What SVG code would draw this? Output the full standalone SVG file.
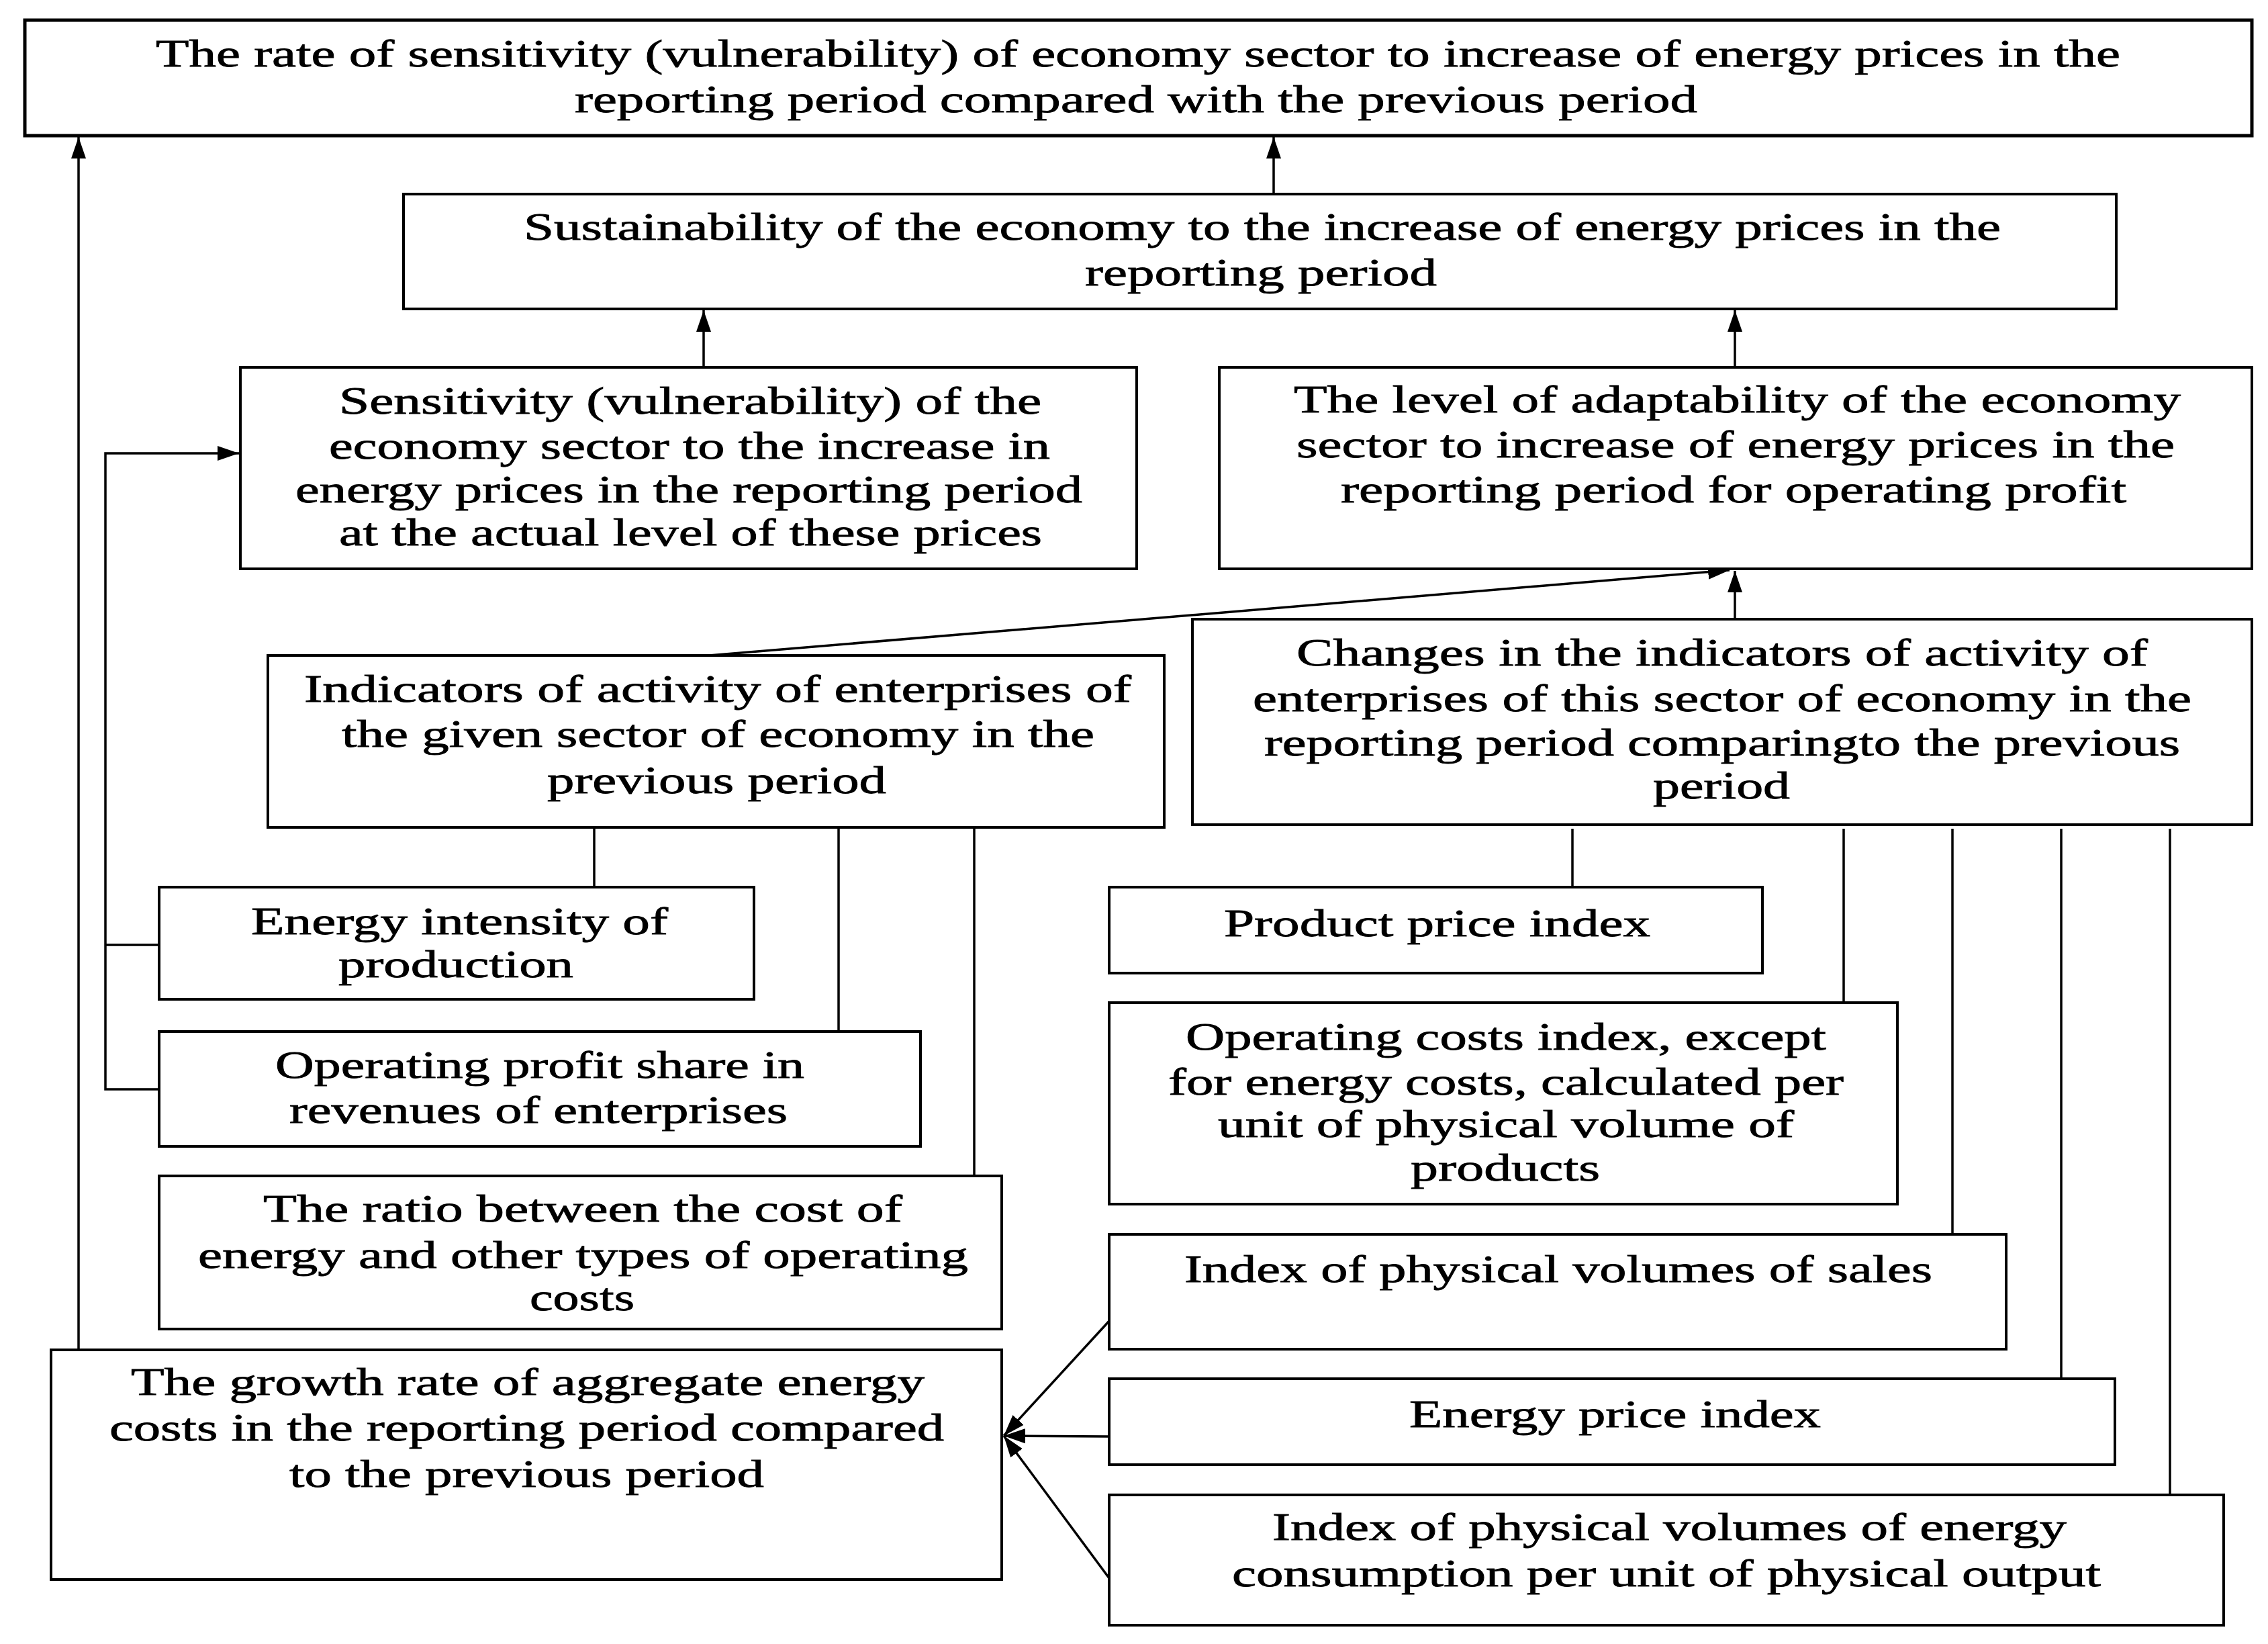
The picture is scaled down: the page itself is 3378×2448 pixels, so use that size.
<svg xmlns="http://www.w3.org/2000/svg" width="3378" height="2448" viewBox="0 0 3378 2448">
<style>
.box{fill:#fff;stroke:#000;stroke-width:4}
.bold{stroke-width:5}
.t{font-family:"Liberation Serif","Times New Roman",serif;font-size:56px;fill:#000;stroke:#000;stroke-width:0.8}
.c{fill:none;stroke:#000;stroke-width:3.5}
</style>
<defs>
<marker id="ah" markerUnits="userSpaceOnUse" markerWidth="34" markerHeight="24" refX="32" refY="12" orient="auto">
<path d="M0,1 L32,12 L0,23 z" fill="#000"/>
</marker>
</defs>
<rect width="3378" height="2448" fill="#fff"/>
<g id="connectors">
<line class="c" x1="117" y1="2010" x2="117" y2="204" marker-end="url(#ah)"/>
<line class="c" x1="1897" y1="289" x2="1897" y2="204" marker-end="url(#ah)"/>
<line class="c" x1="1048" y1="547" x2="1048" y2="462" marker-end="url(#ah)"/>
<line class="c" x1="2584" y1="547" x2="2584" y2="462" marker-end="url(#ah)"/>
<line class="c" x1="2584" y1="922" x2="2584" y2="850" marker-end="url(#ah)"/>
<line class="c" x1="1056" y1="976" x2="2576" y2="849" marker-end="url(#ah)"/>
<polyline class="c" points="237,1622 157,1622 157,675 356,675" marker-end="url(#ah)"/>
<line class="c" x1="157" y1="1407" x2="237" y2="1407"/>
<line class="c" x1="885" y1="1232" x2="885" y2="1321"/>
<line class="c" x1="1249" y1="1232" x2="1249" y2="1536"/>
<line class="c" x1="1451" y1="1232" x2="1451" y2="1751"/>
<line class="c" x1="2342" y1="1234" x2="2342" y2="1321"/>
<line class="c" x1="2746" y1="1234" x2="2746" y2="1493"/>
<line class="c" x1="2908" y1="1234" x2="2908" y2="1838"/>
<line class="c" x1="3070" y1="1234" x2="3070" y2="2053"/>
<line class="c" x1="3232" y1="1234" x2="3232" y2="2226"/>
<line class="c" x1="1652" y1="1967" x2="1495" y2="2138" marker-end="url(#ah)"/>
<line class="c" x1="1652" y1="2139" x2="1495" y2="2138" marker-end="url(#ah)"/>
<line class="c" x1="1652" y1="2350" x2="1495" y2="2138" marker-end="url(#ah)"/>
</g>
<g id="n1">
<rect class="box bold" x="37" y="30" width="3317" height="172"/>
<text class="t" x="232" y="99" textLength="2926" lengthAdjust="spacingAndGlyphs">The rate of sensitivity (vulnerability) of economy sector to increase of energy prices in the</text>
<text class="t" x="856" y="167" textLength="1672" lengthAdjust="spacingAndGlyphs">reporting period compared with the previous period</text>
</g>
<g id="n2">
<rect class="box" x="601" y="289" width="2551" height="171"/>
<text class="t" x="780" y="357" textLength="2200" lengthAdjust="spacingAndGlyphs">Sustainability of the economy to the increase of energy prices in the</text>
<text class="t" x="1616" y="425" textLength="524" lengthAdjust="spacingAndGlyphs">reporting period</text>
</g>
<g id="n3">
<rect class="box" x="358" y="547" width="1335" height="300"/>
<text class="t" x="505" y="616" textLength="1046" lengthAdjust="spacingAndGlyphs">Sensitivity (vulnerability)  of the</text>
<text class="t" x="490" y="683" textLength="1074" lengthAdjust="spacingAndGlyphs">economy sector to the increase in</text>
<text class="t" x="440" y="748" textLength="1172" lengthAdjust="spacingAndGlyphs">energy prices in the reporting period</text>
<text class="t" x="505" y="812" textLength="1047" lengthAdjust="spacingAndGlyphs">at the actual level of these prices</text>
</g>
<g id="n4">
<rect class="box" x="1816" y="547" width="1538" height="300"/>
<text class="t" x="1927" y="614" textLength="1321" lengthAdjust="spacingAndGlyphs">The level of adaptability of the economy</text>
<text class="t" x="1931" y="681" textLength="1308" lengthAdjust="spacingAndGlyphs">sector to increase of energy prices in the</text>
<text class="t" x="1997" y="748" textLength="1170" lengthAdjust="spacingAndGlyphs">reporting period for operating profit</text>
</g>
<g id="n5">
<rect class="box" x="1776" y="922" width="1578" height="306"/>
<text class="t" x="1931" y="991" textLength="1268" lengthAdjust="spacingAndGlyphs">Changes in the indicators of activity of</text>
<text class="t" x="1866" y="1059" textLength="1398" lengthAdjust="spacingAndGlyphs">enterprises of this sector of economy in the</text>
<text class="t" x="1883" y="1125" textLength="1364" lengthAdjust="spacingAndGlyphs">reporting period comparingto the previous</text>
<text class="t" x="2462" y="1189" textLength="204" lengthAdjust="spacingAndGlyphs">period</text>
</g>
<g id="n6">
<rect class="box" x="399" y="976" width="1335" height="256"/>
<text class="t" x="453" y="1045" textLength="1232" lengthAdjust="spacingAndGlyphs">Indicators of activity of enterprises of</text>
<text class="t" x="509" y="1112" textLength="1121" lengthAdjust="spacingAndGlyphs">the given sector of economy in the</text>
<text class="t" x="815" y="1181" textLength="505" lengthAdjust="spacingAndGlyphs">previous period</text>
</g>
<g id="n7">
<rect class="box" x="237" y="1321" width="886" height="167"/>
<text class="t" x="374" y="1391" textLength="621" lengthAdjust="spacingAndGlyphs">Energy intensity of</text>
<text class="t" x="504" y="1455" textLength="350" lengthAdjust="spacingAndGlyphs">production</text>
</g>
<g id="n8">
<rect class="box" x="237" y="1536" width="1134" height="171"/>
<text class="t" x="410" y="1605" textLength="788" lengthAdjust="spacingAndGlyphs">Operating profit share in</text>
<text class="t" x="431" y="1672" textLength="742" lengthAdjust="spacingAndGlyphs">revenues of enterprises</text>
</g>
<g id="n9">
<rect class="box" x="237" y="1751" width="1255" height="228"/>
<text class="t" x="392" y="1819" textLength="952" lengthAdjust="spacingAndGlyphs">The ratio between the cost of</text>
<text class="t" x="295" y="1888" textLength="1147" lengthAdjust="spacingAndGlyphs">energy and other types of operating</text>
<text class="t" x="789" y="1951" textLength="156" lengthAdjust="spacingAndGlyphs">costs</text>
</g>
<g id="n10">
<rect class="box" x="76" y="2010" width="1416" height="342"/>
<text class="t" x="195" y="2077" textLength="1182" lengthAdjust="spacingAndGlyphs">The growth rate of aggregate energy</text>
<text class="t" x="163" y="2145" textLength="1243" lengthAdjust="spacingAndGlyphs">costs in the reporting period compared</text>
<text class="t" x="431" y="2214" textLength="707" lengthAdjust="spacingAndGlyphs">to the previous period</text>
</g>
<g id="n11">
<rect class="box" x="1652" y="1321" width="973" height="128"/>
<text class="t" x="1823" y="1394" textLength="635" lengthAdjust="spacingAndGlyphs">Product price index</text>
</g>
<g id="n12">
<rect class="box" x="1652" y="1493" width="1174" height="300"/>
<text class="t" x="1766" y="1563" textLength="954" lengthAdjust="spacingAndGlyphs">Operating costs index, except</text>
<text class="t" x="1740" y="1630" textLength="1006" lengthAdjust="spacingAndGlyphs">for energy costs, calculated per</text>
<text class="t" x="1814" y="1693" textLength="858" lengthAdjust="spacingAndGlyphs">unit of physical volume of</text>
<text class="t" x="2101" y="1758" textLength="282" lengthAdjust="spacingAndGlyphs">products</text>
</g>
<g id="n13">
<rect class="box" x="1652" y="1838" width="1336" height="171"/>
<text class="t" x="1764" y="1909" textLength="1114" lengthAdjust="spacingAndGlyphs">Index of physical volumes of sales</text>
</g>
<g id="n14">
<rect class="box" x="1652" y="2053" width="1498" height="128"/>
<text class="t" x="2099" y="2125" textLength="613" lengthAdjust="spacingAndGlyphs">Energy price index</text>
</g>
<g id="n15">
<rect class="box" x="1652" y="2226" width="1660" height="194"/>
<text class="t" x="1895" y="2293" textLength="1183" lengthAdjust="spacingAndGlyphs">Index of physical volumes of energy</text>
<text class="t" x="1835" y="2362" textLength="1294" lengthAdjust="spacingAndGlyphs">consumption per unit of physical output</text>
</g>
</svg>
